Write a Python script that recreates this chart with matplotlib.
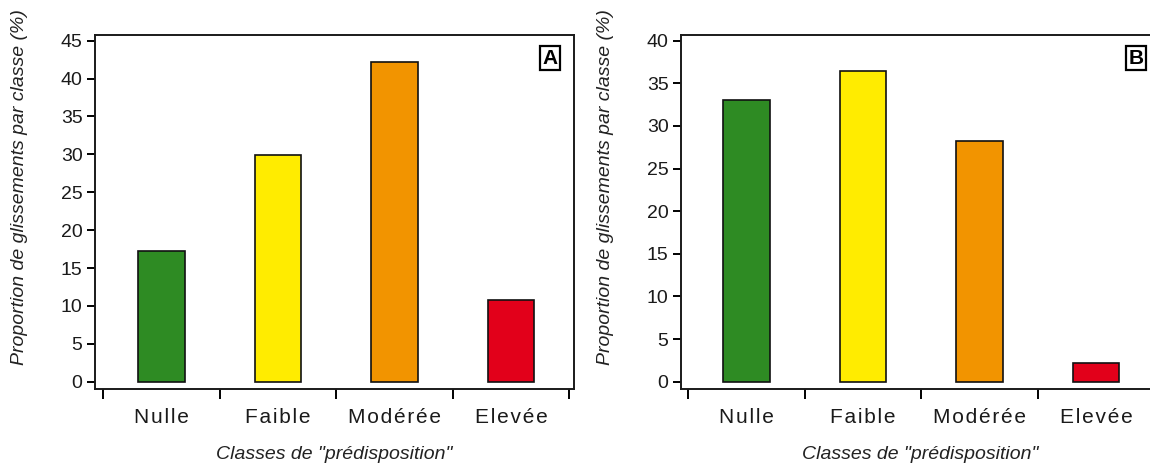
import matplotlib
matplotlib.use('Agg')
import matplotlib.pyplot as plt

plt.rcParams['font.family'] = ['Liberation Sans', 'DejaVu Sans']

classes = ['Nulle', 'Faible', 'Modérée', 'Elevée']
couleurs = ['#2e8b23', '#ffec00', '#f29400', '#e2001a']
vals_A = [17.3, 29.9, 42.2, 10.8]
vals_B = [33.0, 36.5, 28.2, 2.2]
yticks_A = list(range(0, 50, 5))
yticks_B = list(range(0, 45, 5))
ylabel = 'Proportion de glissements par classe (%)'
xlabel = 'Classes de "prédisposition"'

fig = plt.figure(figsize=(11.5, 4.7), dpi=100)

def panel(rect, vals, yticks, ylim, xlim, lettre):
    ax = fig.add_axes(rect)
    x = range(len(classes))
    ax.bar(x, vals, width=0.4, color=couleurs, edgecolor='#111111', linewidth=1.2, zorder=3)
    ax.set_xlim(*xlim)
    ax.set_ylim(*ylim)
    ax.set_yticks(yticks)
    ax.tick_params(axis='y', direction='out', length=6, width=1.4, pad=3,
                   labelsize=14, labelcolor='#1a1a1a')
    # ticks majeurs aux limites des classes, etiquettes au centre
    ax.set_xticks([i - 0.5 for i in range(len(classes) + 1)])
    ax.set_xticklabels([])
    ax.set_xticks(list(x), minor=True)
    ax.set_xticklabels(['\u200a'.join(c) for c in classes], minor=True,
                       fontsize=15, color='#1a1a1a')
    ax.tick_params(axis='x', which='major', direction='out', length=7, width=1.4)
    ax.tick_params(axis='x', which='minor', length=0, pad=14)
    for s in ax.spines.values():
        s.set_linewidth(1.4)
        s.set_color('#1a1a1a')
    ax.set_ylabel(ylabel, fontsize=14, style='italic', color='#222222')
    ax.yaxis.set_label_coords(-0.14, 0.57)
    ax.text(0.5, -0.185, xlabel, transform=ax.transAxes, ha='center', va='center',
            fontsize=14, style='italic', color='#222222')
    ax.text(0.95, 0.935, lettre, transform=ax.transAxes, ha='center', va='center',
            fontsize=15, fontweight='bold',
            bbox=dict(boxstyle='square,pad=0.12', facecolor='white', edgecolor='black', linewidth=1.6))
    return ax

panel([0.0826, 0.1723, 0.4165, 0.7532], vals_A, yticks_A, (-0.963, 45.75), (-0.57, 3.54), 'A')
panel([0.5922, 0.1723, 0.4165, 0.7532], vals_B, yticks_B, (-0.856, 40.67), (-0.56, 3.55), 'B')

fig.savefig('out.png', dpi=100)
